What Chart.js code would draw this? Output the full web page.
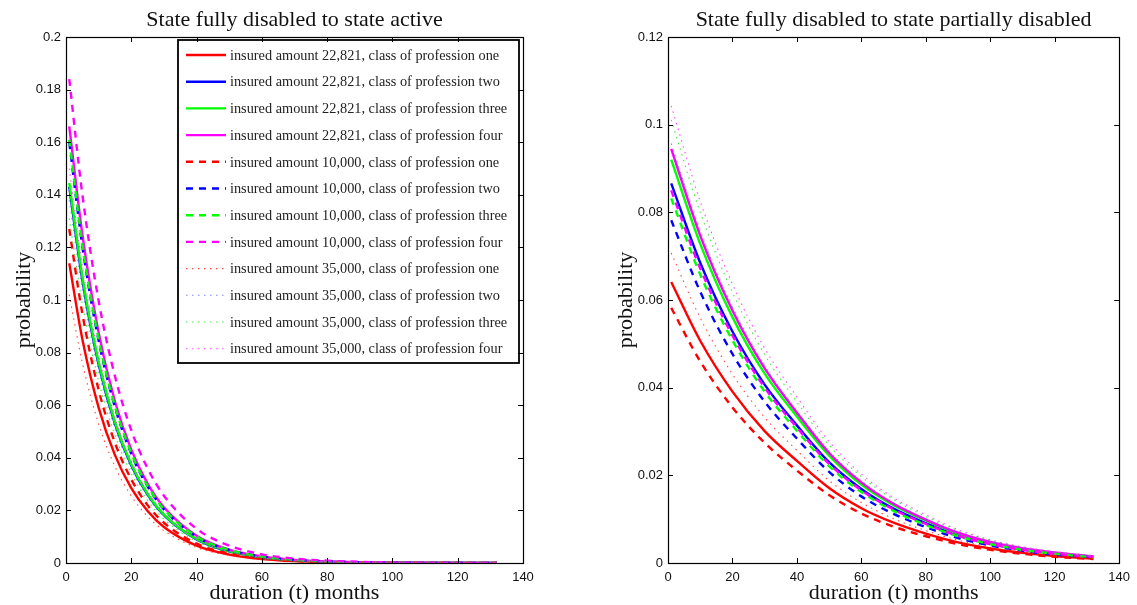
<!DOCTYPE html>
<html>
<head>
<meta charset="utf-8">
<script src="https://cdn.jsdelivr.net/npm/chart.js@4.4.1/dist/chart.umd.min.js"></script>
<style>
  html, body { margin: 0; padding: 0; background: #ffffff; }
  #wrap { position: relative; width: 1137px; height: 605px; overflow: hidden; }
  canvas { position: absolute; top: 0; }
</style>
</head>
<body>
<div id="wrap">
  <canvas id="toActive" width="568" height="605" style="left:0px"></canvas>
  <canvas id="toPartial" width="569" height="605" style="left:568px"></canvas>
</div>
<script>
// ---- duration grid (months) ----
const monthsActive  = [1, 5, 10, 15, 20, 25, 30, 40, 50, 60, 70, 80, 100, 132];
const monthsPartial = [1, 10, 20, 30, 40, 50, 60, 70, 80, 90, 100, 110, 120, 132];

// ---- fully disabled -> active ----
const active22821One   = [0.114, 0.0852, 0.0591, 0.0410, 0.0285, 0.0198, 0.0137, 0.0066, 0.0032, 0.0015, 0.0007, 0.0004, 0.0001, 0.0000];
const active22821Two   = [0.143, 0.1077, 0.0755, 0.0529, 0.0371, 0.0260, 0.0182, 0.0090, 0.0044, 0.0022, 0.0011, 0.0005, 0.0001, 0.0000];
const active22821Three = [0.1445, 0.1088, 0.0763, 0.0535, 0.0375, 0.0263, 0.0184, 0.0091, 0.0045, 0.0022, 0.0011, 0.0005, 0.0001, 0.0000];
const active22821Four  = [0.166, 0.1250, 0.0876, 0.0614, 0.0431, 0.0302, 0.0212, 0.0104, 0.0051, 0.0025, 0.0012, 0.0006, 0.0001, 0.0000];
const active10000One   = [0.127, 0.0949, 0.0658, 0.0457, 0.0318, 0.0220, 0.0153, 0.0074, 0.0036, 0.0017, 0.0008, 0.0004, 0.0001, 0.0000];
const active10000Two   = [0.160, 0.1205, 0.0845, 0.0592, 0.0415, 0.0291, 0.0204, 0.0100, 0.0049, 0.0024, 0.0012, 0.0006, 0.0001, 0.0000];
const active10000Three = [0.161, 0.1212, 0.0850, 0.0596, 0.0418, 0.0293, 0.0205, 0.0101, 0.0050, 0.0024, 0.0012, 0.0006, 0.0001, 0.0000];
const active10000Four  = [0.184, 0.1402, 0.0997, 0.0710, 0.0505, 0.0360, 0.0256, 0.0130, 0.0066, 0.0033, 0.0017, 0.0009, 0.0002, 0.0000];
const active35000One   = [0.102, 0.0762, 0.0528, 0.0367, 0.0255, 0.0177, 0.0123, 0.0059, 0.0029, 0.0014, 0.0007, 0.0003, 0.0001, 0.0000];
const active35000Two   = [0.138, 0.1039, 0.0729, 0.0511, 0.0358, 0.0251, 0.0176, 0.0087, 0.0043, 0.0021, 0.0010, 0.0005, 0.0001, 0.0000];
const active35000Three = [0.131, 0.0986, 0.0692, 0.0485, 0.0340, 0.0238, 0.0167, 0.0082, 0.0040, 0.0020, 0.0010, 0.0005, 0.0001, 0.0000];
const active35000Four  = [0.150, 0.1130, 0.0792, 0.0555, 0.0389, 0.0273, 0.0191, 0.0094, 0.0046, 0.0023, 0.0011, 0.0005, 0.0001, 0.0000];

// ---- fully disabled -> partially disabled ----
const partial22821One   = [0.0641, 0.0507, 0.0391, 0.0301, 0.0233, 0.0171, 0.0125, 0.0092, 0.0067, 0.0047, 0.0033, 0.0023, 0.0016, 0.0010];
const partial22821Two   = [0.0866, 0.0685, 0.0528, 0.0407, 0.0314, 0.0230, 0.0169, 0.0124, 0.0091, 0.0063, 0.0044, 0.0031, 0.0022, 0.0014];
const partial22821Three = [0.0920, 0.0728, 0.0561, 0.0432, 0.0334, 0.0245, 0.0179, 0.0132, 0.0097, 0.0067, 0.0047, 0.0033, 0.0023, 0.0015];
const partial22821Four  = [0.0945, 0.0747, 0.0576, 0.0444, 0.0343, 0.0251, 0.0184, 0.0135, 0.0099, 0.0069, 0.0048, 0.0034, 0.0024, 0.0015];
const partial10000One   = [0.0582, 0.0460, 0.0355, 0.0274, 0.0211, 0.0155, 0.0113, 0.0083, 0.0061, 0.0043, 0.0030, 0.0021, 0.0014, 0.0009];
const partial10000Two   = [0.0782, 0.0619, 0.0477, 0.0368, 0.0284, 0.0208, 0.0152, 0.0112, 0.0082, 0.0057, 0.0040, 0.0028, 0.0019, 0.0013];
const partial10000Three = [0.0832, 0.0658, 0.0508, 0.0391, 0.0302, 0.0221, 0.0162, 0.0119, 0.0087, 0.0061, 0.0043, 0.0030, 0.0021, 0.0013];
const partial10000Four  = [0.0850, 0.0672, 0.0519, 0.0400, 0.0309, 0.0226, 0.0166, 0.0122, 0.0089, 0.0062, 0.0043, 0.0030, 0.0021, 0.0014];
const partial35000One   = [0.0707, 0.0559, 0.0431, 0.0332, 0.0257, 0.0188, 0.0138, 0.0101, 0.0074, 0.0052, 0.0036, 0.0025, 0.0018, 0.0011];
const partial35000Two   = [0.0957, 0.0757, 0.0584, 0.0450, 0.0347, 0.0255, 0.0187, 0.0137, 0.0100, 0.0070, 0.0049, 0.0034, 0.0024, 0.0015];
const partial35000Three = [0.1011, 0.0800, 0.0617, 0.0475, 0.0367, 0.0269, 0.0197, 0.0145, 0.0106, 0.0074, 0.0052, 0.0036, 0.0025, 0.0016];
const partial35000Four  = [0.1043, 0.0825, 0.0636, 0.0490, 0.0379, 0.0277, 0.0203, 0.0149, 0.0110, 0.0076, 0.0053, 0.0037, 0.0026, 0.0017];

// ---- labels and tick settings ----
const insuredAmounts = ['22,821', '10,000', '35,000'];
const professions    = ['one', 'two', 'three', 'four'];
const xTicks = [0, 20, 40, 60, 80, 100, 120, 140];
const yTicksActive  = [0, 0.02, 0.04, 0.06, 0.08, 0.1, 0.12, 0.14, 0.16, 0.18, 0.2];
const yTicksPartial = [0, 0.02, 0.04, 0.06, 0.08, 0.1, 0.12];

const activeSeries = [
  [active22821One, active22821Two, active22821Three, active22821Four],
  [active10000One, active10000Two, active10000Three, active10000Four],
  [active35000One, active35000Two, active35000Three, active35000Four]
];
const partialSeries = [
  [partial22821One, partial22821Two, partial22821Three, partial22821Four],
  [partial10000One, partial10000Two, partial10000Three, partial10000Four],
  [partial35000One, partial35000Two, partial35000Three, partial35000Four]
];

// line style per profession class (colour) and per insured amount (dash)
const professionColours = ['#ff0000', '#0000ff', '#00ff00', '#ff00ff'];
const dottedColours = ['rgba(255,40,40,0.85)', 'rgba(90,90,255,0.75)', 'rgba(30,230,30,0.85)', 'rgba(255,40,255,0.85)'];
const amountDash  = [[], [7, 6], [1.5, 4.5]];
const amountWidth = [2.4, 2.4, 1.1];

function buildDatasets(months, series) {
  const sets = [];
  series.forEach((group, a) => {
    group.forEach((values, p) => {
      sets.push({
        label: 'insured amount ' + insuredAmounts[a] + ', class of profession ' + professions[p],
        data: values.map((v, i) => ({ x: months[i], y: v })),
        borderColor: a === 2 ? dottedColours[p] : professionColours[p],
        borderWidth: amountWidth[a],
        borderDash: amountDash[a],
        fill: false,
        pointRadius: 0,
        cubicInterpolationMode: 'monotone'
      });
    });
  });
  // later curves are painted over earlier ones
  sets.forEach((s, i) => { s.order = sets.length - i; });
  return sets;
}

const SERIF = '"Liberation Serif", "Times New Roman", serif';
const SANS  = '"Liberation Sans", Arial, sans-serif';

// axes frame with inward ticks on all four sides, plus titles
const decorations = {
  id: 'decorations',
  afterDraw(chart, args, opts) {
    const { ctx, chartArea: ca, scales } = chart;
    ctx.save();
    ctx.strokeStyle = '#000';
    ctx.lineWidth = 1;
    // tick marks
    ctx.beginPath();
    opts.xTicks.forEach(t => {
      const x = Math.round(scales.x.getPixelForValue(t)) + 0.5;
      ctx.moveTo(x, ca.bottom); ctx.lineTo(x, ca.bottom - 5);
      ctx.moveTo(x, ca.top);    ctx.lineTo(x, ca.top + 5);
    });
    opts.yTicks.forEach(t => {
      const y = Math.round(scales.y.getPixelForValue(t)) + 0.5;
      ctx.moveTo(ca.left, y);  ctx.lineTo(ca.left + 5, y);
      ctx.moveTo(ca.right, y); ctx.lineTo(ca.right - 5, y);
    });
    ctx.stroke();
    ctx.lineWidth = 1.2;
    ctx.strokeRect(Math.round(ca.left) + 0.5, Math.round(ca.top) + 0.5,
                   Math.round(ca.right - ca.left), Math.round(ca.bottom - ca.top));

    // title and axis labels
    ctx.fillStyle = '#111';
    ctx.textAlign = 'center';
    ctx.textBaseline = 'alphabetic';
    const cx = (ca.left + ca.right) / 2;
    ctx.font = '22px ' + SERIF;
    ctx.fillText(opts.title, cx, 26);
    ctx.font = '22px ' + SERIF;
    ctx.fillText('duration (t) months', cx, 599);
    ctx.save();
    ctx.translate(ca.left - 36, (ca.top + ca.bottom) / 2);
    ctx.rotate(-Math.PI / 2);
    ctx.fillText('probability', 0, 0);
    ctx.restore();
    ctx.restore();
  }
};

// boxed legend in the upper right of the first panel
const boxedLegend = {
  id: 'boxedLegend',
  afterDatasetsDraw(chart, args, opts) {
    if (!opts.show) return;
    const { ctx, chartArea: ca } = chart;
    const left = ca.left + 112, top = ca.top + 3;
    const w = 341, h = 323, pitch = 26.7;
    ctx.save();
    ctx.fillStyle = '#fff';
    ctx.fillRect(left, top, w, h);
    ctx.strokeStyle = '#000';
    ctx.lineWidth = 1.8;
    ctx.strokeRect(left, top, w, h);
    ctx.font = '14.3px ' + SERIF;
    ctx.textAlign = 'left';
    ctx.textBaseline = 'middle';
    chart.data.datasets.forEach((ds, i) => {
      const y = top + 15 + i * pitch;
      ctx.strokeStyle = ds.borderColor;
      ctx.lineWidth = ds.borderWidth;
      ctx.setLineDash(ds.borderDash);
      ctx.beginPath();
      ctx.moveTo(left + 8, y);
      ctx.lineTo(left + 48, y);
      ctx.stroke();
      ctx.setLineDash([]);
      ctx.fillStyle = '#222';
      ctx.fillText(ds.label, left + 52, y + 1);
    });
    ctx.restore();
  }
};

function makeChart(id, months, series, yMax, yTicks, title, pad, legend) {
  return new Chart(document.getElementById(id), {
    type: 'line',
    data: { datasets: buildDatasets(months, series) },
    options: {
      responsive: false,
      animation: false,
      events: [],
      layout: { padding: { left: pad.left, right: pad.right, top: 37, bottom: 0 } },
      plugins: {
        legend: { display: false },
        tooltip: { enabled: false },
        title: { display: false },
        decorations: { title: title, xTicks: xTicks, yTicks: yTicks },
        boxedLegend: { show: legend }
      },
      scales: {
        x: {
          type: 'linear', min: 0, max: 140,
          afterBuildTicks: s => { s.ticks = xTicks.map(v => ({ value: v })); },
          afterFit: s => { s.height = 42; },
          grid: { display: false, drawTicks: false },
          border: { display: false },
          ticks: { color: '#111', padding: 7, maxRotation: 0, font: { family: SANS, size: 13 },
                   callback: v => String(v) }
        },
        y: {
          type: 'linear', min: 0, max: yMax,
          afterBuildTicks: s => { s.ticks = yTicks.map(v => ({ value: v })); },
          afterFit: s => { s.width = 66; },
          grid: { display: false, drawTicks: false },
          border: { display: false },
          ticks: { color: '#111', padding: 5, font: { family: SANS, size: 13 },
                   callback: v => String(Number(v.toFixed(2))) }
        }
      }
    },
    plugins: [boxedLegend, decorations]
  });
}

makeChart('toActive', monthsActive, activeSeries, 0.2, yTicksActive,
          'State fully disabled to state active', { left: 0, right: 45 }, true);
makeChart('toPartial', monthsPartial, partialSeries, 0.12, yTicksPartial,
          'State fully disabled to state partially disabled', { left: 34, right: 12 }, false);
</script>
</body>
</html>
